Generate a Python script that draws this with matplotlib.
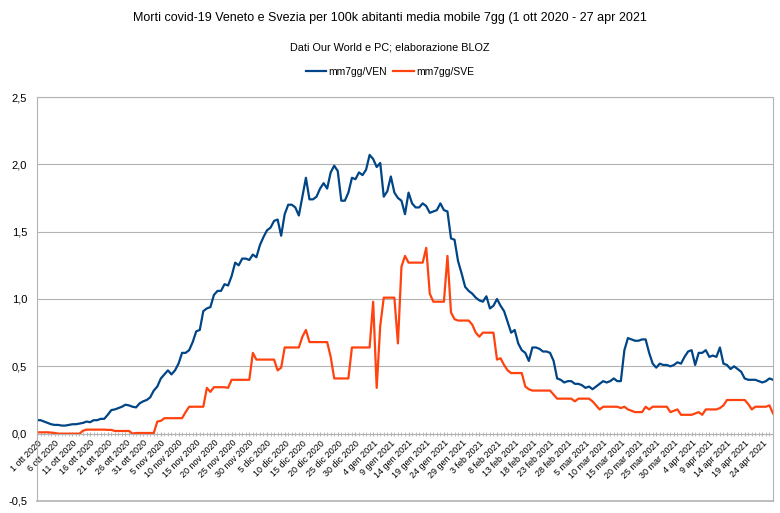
import matplotlib
matplotlib.use("Agg")
import matplotlib.pyplot as plt
from matplotlib.ticker import FixedLocator, MultipleLocator

plt.rcParams['font.family'] = ['Liberation Sans', 'DejaVu Sans']

# daily 7-day moving average of deaths per 100k, 1 ott 2020 .. 27 apr 2021
ven = [
    0.10, 0.10, 0.09, 0.08, 0.07, 0.065, 0.065, 0.06, 0.06, 0.065,
    0.07, 0.07, 0.075, 0.08, 0.09, 0.085, 0.10, 0.10, 0.11, 0.11,
    0.14, 0.175, 0.18, 0.19, 0.20, 0.215, 0.21, 0.20, 0.195, 0.225,
    0.24, 0.25, 0.27, 0.32, 0.35, 0.41, 0.44, 0.47, 0.44, 0.47,
    0.52, 0.60, 0.60, 0.62, 0.68, 0.76, 0.77, 0.91, 0.93, 0.94,
    1.03, 1.06, 1.06, 1.11, 1.10, 1.17, 1.27, 1.25, 1.30, 1.30,
    1.29, 1.33, 1.31, 1.40, 1.46, 1.51, 1.53, 1.58, 1.59, 1.47,
    1.63, 1.70, 1.70, 1.68, 1.62, 1.76, 1.90, 1.74, 1.74, 1.76,
    1.82, 1.86, 1.82, 1.94, 1.99, 1.95, 1.73, 1.73, 1.79, 1.90,
    1.89, 1.94, 1.92, 1.96, 2.07, 2.04, 1.98, 2.01, 1.76, 1.80,
    1.91, 1.79, 1.75, 1.73, 1.63, 1.79, 1.71, 1.68, 1.68, 1.71,
    1.69, 1.64, 1.65, 1.66, 1.71, 1.66, 1.65, 1.45, 1.44, 1.28,
    1.19, 1.09, 1.06, 1.04, 1.01, 0.99, 0.98, 1.02, 0.93, 0.95,
    1.00, 0.95, 0.91, 0.83, 0.75, 0.77, 0.67, 0.62, 0.60, 0.54,
    0.64, 0.64, 0.63, 0.61, 0.61, 0.60, 0.54, 0.41, 0.40, 0.38,
    0.39, 0.39, 0.37, 0.37, 0.36, 0.34, 0.35, 0.33, 0.35, 0.37,
    0.39, 0.38, 0.39, 0.41, 0.39, 0.39, 0.62, 0.71, 0.70, 0.69,
    0.69, 0.70, 0.70, 0.60, 0.52, 0.49, 0.52, 0.51, 0.51, 0.50,
    0.51, 0.53, 0.52, 0.57, 0.61, 0.62, 0.51, 0.60, 0.60, 0.62,
    0.57, 0.58, 0.57, 0.64, 0.52, 0.51, 0.48, 0.50, 0.48, 0.46,
    0.41, 0.40, 0.40, 0.40, 0.39, 0.38, 0.39, 0.41, 0.40,
]

sve = [
    0.01, 0.01, 0.01, 0.01, 0.008, 0.005, 0.0, 0.0, 0.0, 0.0,
    0.0, 0.0, 0.0, 0.022, 0.03, 0.03, 0.03, 0.03, 0.03, 0.03,
    0.028, 0.028, 0.02, 0.02, 0.02, 0.02, 0.02, 0.0, 0.005, 0.005,
    0.005, 0.005, 0.005, 0.005, 0.09, 0.095, 0.115, 0.115, 0.115, 0.115,
    0.115, 0.115, 0.16, 0.20, 0.20, 0.20, 0.20, 0.20, 0.34, 0.31,
    0.345, 0.345, 0.345, 0.345, 0.34, 0.40, 0.40, 0.40, 0.40, 0.40,
    0.40, 0.60, 0.55, 0.55, 0.55, 0.55, 0.55, 0.55, 0.47, 0.49,
    0.64, 0.64, 0.64, 0.64, 0.64, 0.72, 0.77, 0.68, 0.68, 0.68,
    0.68, 0.68, 0.68, 0.57, 0.41, 0.41, 0.41, 0.41, 0.41, 0.64,
    0.64, 0.64, 0.64, 0.64, 0.64, 0.98, 0.34, 0.80, 1.01, 1.01,
    1.01, 1.01, 0.67, 1.24, 1.32, 1.27, 1.27, 1.27, 1.27, 1.27,
    1.38, 1.04, 0.98, 0.98, 0.98, 0.98, 1.32, 0.90, 0.85, 0.84,
    0.84, 0.84, 0.84, 0.81, 0.75, 0.72, 0.75, 0.75, 0.75, 0.75,
    0.55, 0.56, 0.51, 0.47, 0.45, 0.45, 0.45, 0.45, 0.35, 0.33,
    0.32, 0.32, 0.32, 0.32, 0.32, 0.32, 0.29, 0.26, 0.26, 0.26,
    0.26, 0.26, 0.24, 0.26, 0.26, 0.26, 0.26, 0.24, 0.21, 0.18,
    0.20, 0.20, 0.20, 0.20, 0.20, 0.19, 0.20, 0.18, 0.17, 0.16,
    0.16, 0.16, 0.20, 0.18, 0.20, 0.20, 0.20, 0.20, 0.20, 0.16,
    0.17, 0.18, 0.14, 0.14, 0.14, 0.14, 0.15, 0.16, 0.14, 0.18,
    0.18, 0.18, 0.18, 0.19, 0.21, 0.25, 0.25, 0.25, 0.25, 0.25,
    0.25, 0.22, 0.18, 0.20, 0.20, 0.20, 0.20, 0.21, 0.15,
]

tick_labels = [
    "1 ott 2020", "6 ott 2020", "11 ott 2020", "16 ott 2020", "21 ott 2020",
    "26 ott 2020", "31 ott 2020", "5 nov 2020", "10 nov 2020", "15 nov 2020",
    "20 nov 2020", "25 nov 2020", "30 nov 2020", "5 dic 2020", "10 dic 2020",
    "15 dic 2020", "20 dic 2020", "25 dic 2020", "30 dic 2020", "4 gen 2021",
    "9 gen 2021", "14 gen 2021", "19 gen 2021", "24 gen 2021", "29 gen 2021",
    "3 feb 2021", "8 feb 2021", "13 feb 2021", "18 feb 2021", "23 feb 2021",
    "28 feb 2021", "5 mar 2021", "10 mar 2021", "15 mar 2021", "20 mar 2021",
    "25 mar 2021", "30 mar 2021", "4 apr 2021", "9 apr 2021", "14 apr 2021",
    "19 apr 2021", "24 apr 2021",
]
y_ticks = [-0.5, 0.0, 0.5, 1.0, 1.5, 2.0, 2.5]

series_names = ["mm7gg/VEN", "mm7gg/SVE"]
colors = ["#004586", "#ff420e"]

n = len(ven)
x = list(range(n))

fig = plt.figure(figsize=(7.8, 5.13), dpi=100)
ax = fig.add_axes([37 / 780, 12 / 513, 736 / 780, 404 / 513])

ax.plot(x, ven, color=colors[0], lw=1.6, label=series_names[0], solid_joinstyle='round')
ax.plot(x, sve, color=colors[1], lw=1.6, label=series_names[1], solid_joinstyle='round')

ax.set_xlim(0, n - 1)
ax.set_ylim(-0.5, 2.5)
ax.set_yticks(y_ticks)
ax.set_yticklabels([f"{v:.1f}".replace(".", ",") for v in y_ticks], fontsize=8)
ax.grid(axis='y', color='#b3b3b3', lw=0.8)
ax.set_axisbelow(True)

grey = '#b3b3b3'
for s in ['left', 'right', 'top']:
    ax.spines[s].set_color(grey)
    ax.spines[s].set_linewidth(0.8)
ax.spines['bottom'].set_position(('data', 0))
ax.spines['bottom'].set_color(grey)
ax.spines['bottom'].set_linewidth(0.8)
# frame line at bottom of plot area
ax.axhline(y_ticks[0], color=grey, lw=1.2, clip_on=False, zorder=0)

ax.xaxis.set_major_locator(FixedLocator(list(range(0, n, 5))))
ax.set_xticklabels(tick_labels, rotation=45, ha='right', va='top',
                   rotation_mode='anchor', fontsize=6.5)
ax.xaxis.set_minor_locator(MultipleLocator(1))
ax.tick_params(axis='x', which='both', colors=grey, length=3, direction='inout', pad=2,
               labelcolor='black')
ax.tick_params(axis='y', length=0, pad=7)

fig.text(0.5, 1 - 18 / 513, "Morti covid-19 Veneto e Svezia per 100k abitanti media mobile 7gg (1 ott 2020 - 27 apr 2021",
         ha='center', va='center', fontsize=9)
fig.text(0.5, 1 - 48 / 513, "Dati Our World e PC; elaborazione BLOZ",
         ha='center', va='center', fontsize=7.8)
fig.legend(loc='center', bbox_to_anchor=(0.5, 1 - 72 / 513), ncol=2, frameon=False,
           fontsize=7.5, handlelength=2.0, columnspacing=0.6, handletextpad=0.2)

fig.savefig("out.png", dpi=100)
